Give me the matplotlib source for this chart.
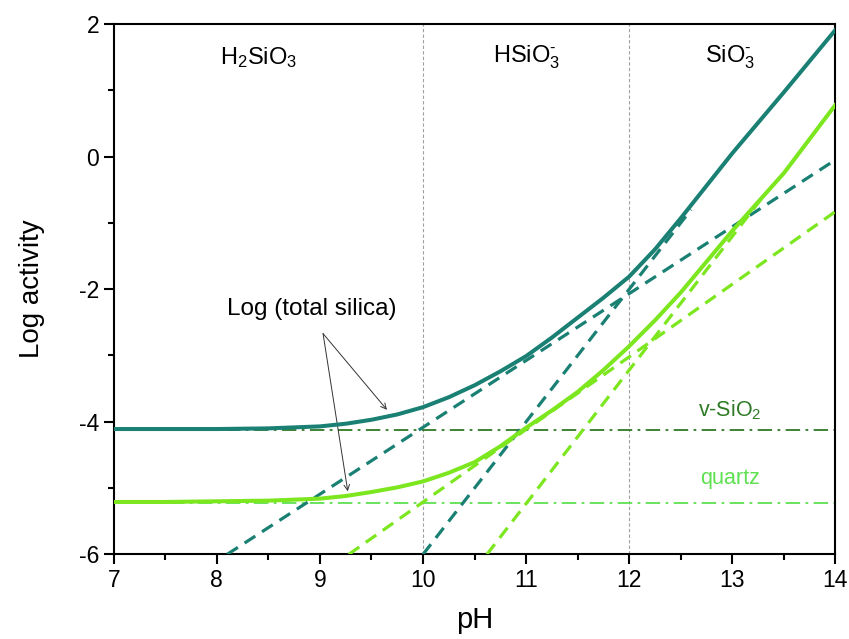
import numpy as np
import matplotlib
matplotlib.use("Agg")
from matplotlib import pyplot as plt
from matplotlib.ticker import MultipleLocator

plt.rcParams['font.family'] = ['Liberation Sans', 'DejaVu Sans']
plt.rcParams['mathtext.fontset'] = 'custom'
plt.rcParams['mathtext.rm'] = 'Liberation Sans'
plt.rcParams['mathtext.it'] = 'Liberation Sans:italic'
plt.rcParams['axes.unicode_minus'] = False

# total dissolved silica
ph = [7.0, 7.5, 8.0, 8.5, 9.0, 9.25, 9.5, 9.75, 10.0, 10.25, 10.5, 10.75, 11.0,
      11.25, 11.5, 11.75, 12.0, 12.25, 12.5, 13.0, 13.5, 14.0]
total_vsio2 = [-4.11, -4.11, -4.11, -4.10, -4.07, -4.03, -3.97, -3.89, -3.78, -3.63, -3.45, -3.24, -3.01,
               -2.73, -2.43, -2.13, -1.81, -1.40, -0.93, 0.05, 0.97, 1.91]
total_quartz = [-5.21, -5.21, -5.20, -5.19, -5.16, -5.12, -5.06, -4.99, -4.90, -4.77, -4.61, -4.37, -4.09,
                -3.83, -3.55, -3.22, -2.86, -2.47, -2.05, -1.12, -0.25, 0.78]

# species lines (dashed), end points
vsio2_hsio3_ph = [8.1, 14.0]
vsio2_hsio3 = [-6.0, -0.05]
vsio2_sio3_ph = [10.0, 12.6]
vsio2_sio3 = [-6.0, -0.8]
quartz_hsio3_ph = [9.28, 14.0]
quartz_hsio3 = [-6.0, -0.83]
quartz_sio3_ph = [10.62, 13.3]
quartz_sio3 = [-6.0, -0.6]

# solubility of the neutral species
vsio2_level = -4.12
quartz_level = -5.22

# pKa boundaries
boundaries = [10, 12]
species = ['H$_2$SiO$_3$', 'HSiO$_3^{\\text{-}}$', 'SiO$_3^{\\text{-}}$']
species_ph = [8.4, 11.0, 12.98]

dark = '#1a8073'
light = '#7ce61e'
dark_ref = '#2e7a25'
light_ref = '#5ee050'

fig = plt.figure(figsize=(8.49, 6.39), dpi=100)
ax = fig.add_axes([0.134, 0.1325, 0.85, 0.83])

for b in boundaries:
    ax.axvline(b, color='#a0a0a0', lw=0.8, ls=(0, (3, 2)), zorder=1)

ax.axhline(vsio2_level, color=dark_ref, lw=1.3, ls=(0, (8, 3, 1.5, 3)), zorder=2)
ax.axhline(quartz_level, color=light_ref, lw=1.3, ls=(0, (8, 3, 1.5, 3)), zorder=2)

ax.plot(vsio2_hsio3_ph, vsio2_hsio3, color=dark, lw=2.3, ls=(0, (4, 2.5)), zorder=3)
ax.plot(vsio2_sio3_ph, vsio2_sio3, color=dark, lw=2.3, ls=(0, (4, 2.5)), zorder=3)
ax.plot(quartz_hsio3_ph, quartz_hsio3, color=light, lw=2.3, ls=(0, (4, 2.5)), zorder=3)
ax.plot(quartz_sio3_ph, quartz_sio3, color=light, lw=2.3, ls=(0, (4, 2.5)), zorder=3)

ax.plot(ph, total_vsio2, color=dark, lw=2.9, zorder=4)
ax.plot(ph, total_quartz, color=light, lw=2.9, zorder=4)

for name, x in zip(species, species_ph):
    ax.text(x, 1.5, name, ha='center', va='center', fontsize=17)

ax.text(12.98, -3.82, 'v-SiO$_2$', color=dark_ref, ha='center', va='center', fontsize=15.5)
ax.text(12.98, -4.85, 'quartz', color=light_ref, ha='center', va='center', fontsize=15.5)

ax.text(8.92, -2.3, 'Log (total silica)', ha='center', va='center', fontsize=17.5)
for tip in [(9.65, -3.82), (9.27, -5.05)]:
    ax.annotate('', xy=tip, xytext=(9.03, -2.67),
                arrowprops=dict(arrowstyle='->', color='#333333', lw=0.7,
                                shrinkA=0, shrinkB=0))

ax.set_xlim(7, 14)
ax.set_ylim(-6, 2)
ax.xaxis.set_major_locator(MultipleLocator(1))
ax.xaxis.set_minor_locator(MultipleLocator(0.5))
ax.yaxis.set_major_locator(MultipleLocator(2))
ax.yaxis.set_minor_locator(MultipleLocator(1))
ax.tick_params(which='both', direction='out', width=1.5, labelsize=16.5, top=False, right=False)
ax.tick_params(which='major', length=7)
ax.tick_params(which='minor', length=4)
for s in ax.spines.values():
    s.set_linewidth(1.5)

ax.set_xlabel('pH', fontsize=21, labelpad=10)
ax.set_ylabel('Log activity', fontsize=20, labelpad=24)

fig.savefig('out.png', dpi=100)
